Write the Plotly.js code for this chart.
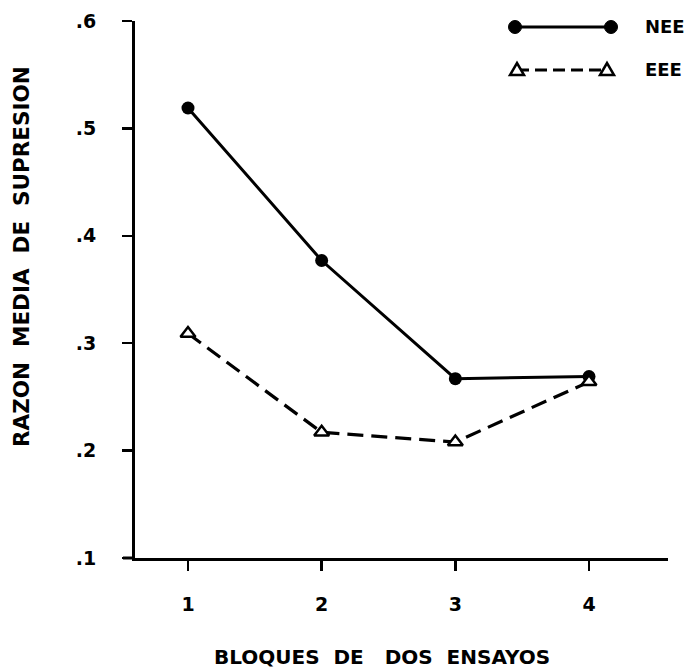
<!DOCTYPE html>
<html>
<head>
<meta charset="utf-8">
<script src="https://cdn.plot.ly/plotly-3.0.1.min.js"></script>
<style>html,body{margin:0;padding:0;background:#fff;}#chart{width:689px;height:670px;}</style>
</head>
<body>
<div id="chart"></div>
<script>
const bloques = [1, 2, 3, 4];
const neeValues = [0.519, 0.377, 0.267, 0.269];
const eeeValues = [0.309, 0.217, 0.208, 0.264];
const yTickVals = [0.1, 0.2, 0.3, 0.4, 0.5, 0.6];
const yTickText = ['.1', '.2', '.3', '.4', '.5', '.6'];
const xTickText = ['1', '2', '3', '4'];
const seriesNames = ['NEE', 'EEE'];

const FONT = 'DejaVu Sans, sans-serif';
const W = 689, H = 670;
const M = {l: 135, r: 21, t: 21, b: 112};
const PW = W - M.l - M.r, PH = H - M.t - M.b;
const px = x => (x - M.l) / PW;
const py = y => (H - M.b - y) / PH;

const traces = [
  {
    x: bloques, y: neeValues, name: seriesNames[0], mode: 'lines+markers',
    line: {color: '#000', width: 3},
    marker: {symbol: 'circle', size: 13, color: '#000'},
    showlegend: false, cliponaxis: false
  },
  {
    x: bloques, y: eeeValues, name: seriesNames[1], mode: 'lines+markers',
    line: {color: '#000', width: 3.2, dash: '16px,8px'},
    marker: {symbol: 'triangle-up', size: 13, color: '#fff', line: {color: '#000', width: 2.5}},
    showlegend: false, cliponaxis: false
  }
];

const tri = 'M-7,-5 L7,-5 L0,7 Z';
const shapes = [
  {type: 'line', xref: 'paper', yref: 'paper', x0: px(123), x1: 0, y0: 0, y1: 0, line: {color: '#000', width: 3}},
  {type: 'line', xref: 'paper', yref: 'paper', x0: px(515), x1: px(611), y0: py(27), y1: py(27), line: {color: '#000', width: 3}},
  {type: 'circle', xref: 'paper', yref: 'paper', xsizemode: 'pixel', ysizemode: 'pixel', xanchor: px(515), yanchor: py(27), x0: -6.5, x1: 6.5, y0: -6.5, y1: 6.5, fillcolor: '#000', line: {color: '#000', width: 1}},
  {type: 'circle', xref: 'paper', yref: 'paper', xsizemode: 'pixel', ysizemode: 'pixel', xanchor: px(611), yanchor: py(27), x0: -6.5, x1: 6.5, y0: -6.5, y1: 6.5, fillcolor: '#000', line: {color: '#000', width: 1}},
  {type: 'line', xref: 'paper', yref: 'paper', x0: px(517), x1: px(607), y0: py(70), y1: py(70), line: {color: '#000', width: 3, dash: '12px,6px'}},
  {type: 'path', xref: 'paper', yref: 'paper', xsizemode: 'pixel', ysizemode: 'pixel', xanchor: px(517), yanchor: py(70), path: tri, fillcolor: '#fff', line: {color: '#000', width: 2.5}},
  {type: 'path', xref: 'paper', yref: 'paper', xsizemode: 'pixel', ysizemode: 'pixel', xanchor: px(607), yanchor: py(70), path: tri, fillcolor: '#fff', line: {color: '#000', width: 2.5}}
];

const annotations = [
  {text: seriesNames[0], xref: 'paper', yref: 'paper', x: px(643), y: py(27), xanchor: 'left', yanchor: 'middle', showarrow: false, font: {family: FONT, size: 18, color: '#000', weight: 'bold'}},
  {text: seriesNames[1], xref: 'paper', yref: 'paper', x: px(643), y: py(70), xanchor: 'left', yanchor: 'middle', showarrow: false, font: {family: FONT, size: 18, color: '#000', weight: 'bold'}},
  {text: 'BLOQUES\u00A0\u00A0DE\u00A0\u00A0\u00A0DOS\u00A0\u00A0ENSAYOS', xref: 'paper', yref: 'paper', x: px(382), y: py(657), xanchor: 'center', yanchor: 'middle', showarrow: false, font: {family: FONT, size: 20, color: '#000', weight: 'bold'}},
  {text: 'RAZON\u00A0\u00A0MEDIA\u00A0\u00A0DE\u00A0\u00A0SUPRESION', xref: 'paper', yref: 'paper', x: px(21), y: py(257), xanchor: 'center', yanchor: 'middle', textangle: -90, showarrow: false, font: {family: FONT, size: 21.5, color: '#000', weight: 'bold'}}
];

const layout = {
  width: W, height: H,
  margin: M,
  paper_bgcolor: '#fff', plot_bgcolor: '#fff',
  showlegend: false,
  font: {family: FONT, color: '#000'},
  xaxis: {
    range: [1 - (188 - 135) / 133.7, 4 + (668 - 589) / 133.7],
    tickvals: bloques, ticktext: xTickText,
    showline: true, linecolor: '#000', linewidth: 3,
    ticks: 'outside', ticklen: 10, tickwidth: 2.5, tickcolor: '#000',
    showgrid: false, zeroline: false,
    tickfont: {family: FONT, size: 19, color: '#000', weight: 'bold'},
    ticklabelstandoff: 17
  },
  yaxis: {
    range: [0.1, 0.6],
    tickvals: yTickVals, ticktext: yTickText,
    showline: true, linecolor: '#000', linewidth: 3,
    ticks: 'outside', ticklen: 10, tickwidth: 2.5, tickcolor: '#000',
    showgrid: false, zeroline: false,
    tickfont: {family: FONT, size: 19, color: '#000', weight: 'bold'},
    ticklabelstandoff: 22
  },
  shapes: shapes,
  annotations: annotations
};

Plotly.newPlot('chart', traces, layout, {displayModeBar: false, staticPlot: true});
</script>
</body>
</html>
